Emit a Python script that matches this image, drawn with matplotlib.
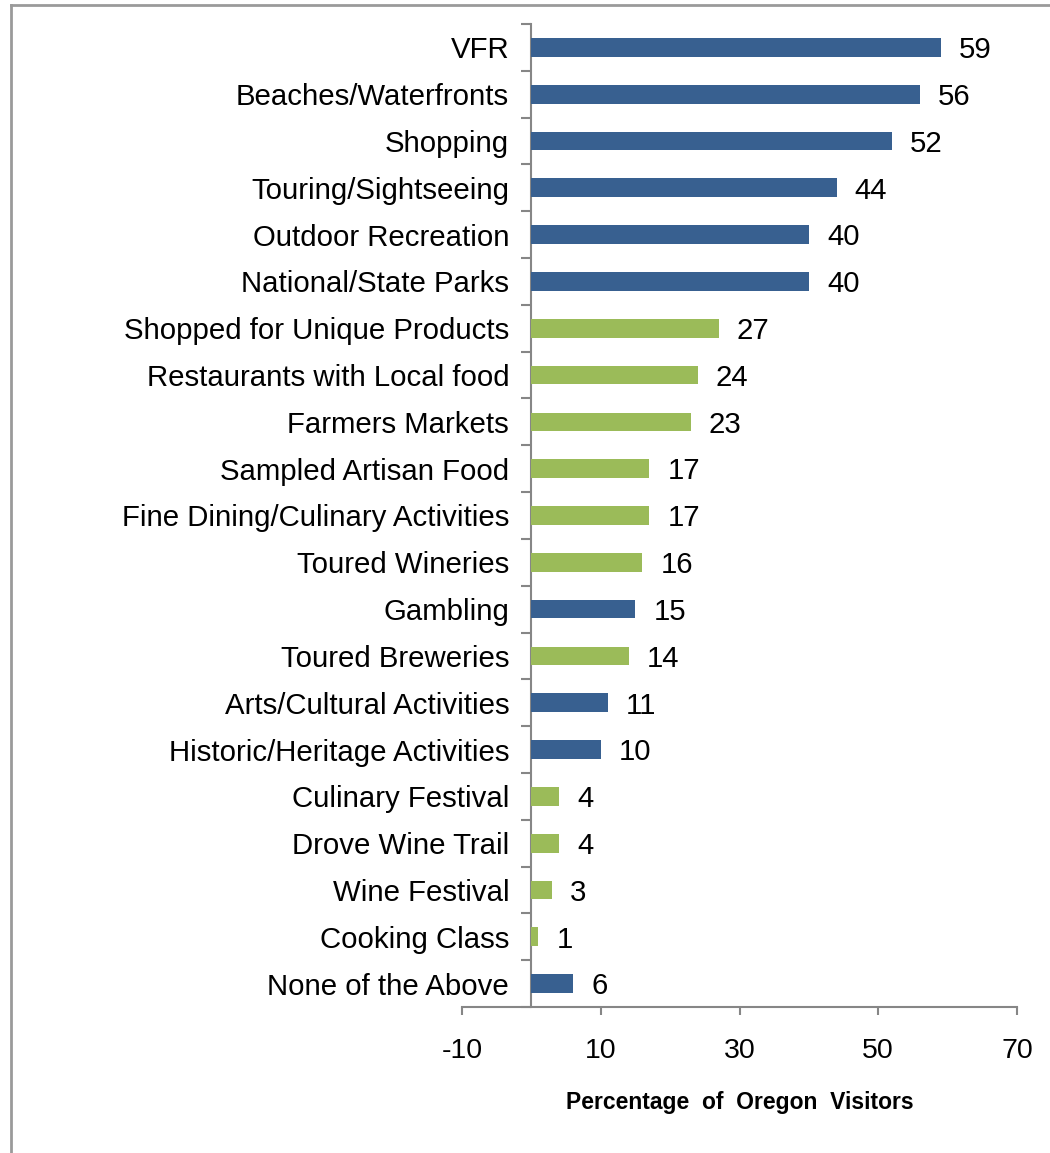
import matplotlib
matplotlib.use("Agg")
import matplotlib.pyplot as plt
from matplotlib.lines import Line2D
from matplotlib.ticker import FixedLocator

plt.rcParams['font.family'] = ['Liberation Sans', 'DejaVu Sans']

categories = [
    "VFR", "Beaches/Waterfronts", "Shopping", "Touring/Sightseeing",
    "Outdoor Recreation", "National/State Parks", "Shopped for Unique Products",
    "Restaurants with Local food", "Farmers Markets", "Sampled Artisan Food",
    "Fine Dining/Culinary Activities", "Toured Wineries", "Gambling",
    "Toured Breweries", "Arts/Cultural Activities", "Historic/Heritage Activities",
    "Culinary Festival", "Drove Wine Trail", "Wine Festival", "Cooking Class",
    "None of the Above",
]
values = [59, 56, 52, 44, 40, 40, 27, 24, 23, 17, 17, 16, 15, 14, 11, 10, 4, 4, 3, 1, 6]
groups = ["general"] * 6 + ["culinary"] * 6 + ["general", "culinary", "general", "general",
          "culinary", "culinary", "culinary", "culinary", "general"]
group_colors = {"general": "#386090", "culinary": "#9bbb59"}
x_ticks = [-10, 10, 30, 50, 70]
x_label = "Percentage  of  Oregon  Visitors"

W, H = 1050, 1153
fig = plt.figure(figsize=(W / 100, H / 100), dpi=100)
ax = fig.add_axes([462 / W, 1 - 1007 / H, (1017 - 462) / W, (1007 - 24) / H])

pos = list(range(len(categories)))
ax.barh(pos, values, height=0.4, color=[group_colors[g] for g in groups], zorder=3)

for p, v in zip(pos, values):
    ax.annotate(str(v), xy=(v, p), xytext=(13, -2), textcoords="offset points",
                ha="left", va="center", fontsize=21.2, color="black")

ax.set_xlim(-10, 70)
ax.set_ylim(len(categories) - 0.5, -0.5)

axis_gray = "#868686"
ax.spines['top'].set_visible(False)
ax.spines['right'].set_visible(False)
ax.spines['left'].set_position(('data', 0))
ax.spines['left'].set_color(axis_gray)
ax.spines['bottom'].set_color(axis_gray)
ax.spines['left'].set_linewidth(1.5)
ax.spines['bottom'].set_linewidth(1.5)

ax.set_yticks(pos)
ax.set_yticklabels(categories, fontsize=21.2)
ax.yaxis.set_minor_locator(FixedLocator([i - 0.5 for i in range(len(categories) + 1)]))
ax.tick_params(axis='y', which='major', length=0, pad=16)
ax.tick_params(axis='y', which='minor', length=7, width=1.5, color=axis_gray, direction='out')

ax.set_xticks(x_ticks)
ax.set_xticklabels([str(t) for t in x_ticks], fontsize=20.5)
ax.tick_params(axis='x', length=6, width=1.5, color=axis_gray, direction='out', pad=16)

ax.set_xlabel(x_label, fontsize=16.5, fontweight='bold', labelpad=20)

# Outer frame lines along the top and left edge
fig.add_artist(Line2D([11 / W, 1.0], [1 - 5 / H, 1 - 5 / H], transform=fig.transFigure,
                      color="#9a9a9a", linewidth=2))
fig.add_artist(Line2D([11 / W, 11 / W], [0.0, 1 - 5 / H], transform=fig.transFigure,
                      color="#9a9a9a", linewidth=2))

fig.savefig("out.png", dpi=100)
